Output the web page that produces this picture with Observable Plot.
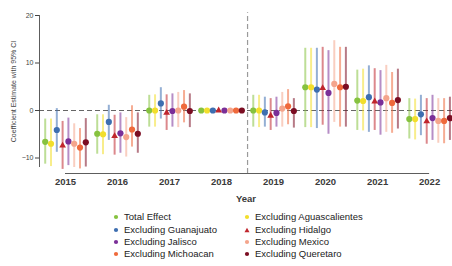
<!DOCTYPE html>
<html>
<head>
<meta charset="utf-8">
<script src="https://cdn.jsdelivr.net/npm/d3@7"></script>
<script src="https://cdn.jsdelivr.net/npm/@observablehq/plot@0.6"></script>
<style>
  body { margin: 0; background: #fff; font-family: "Liberation Sans", Arial, sans-serif; }
  #chart { position: relative; width: 452px; }
  .legend { position: relative; height: 56px; font-size: 9.5px; color: #222; }
  .item { position: absolute; display: flex; align-items: center; white-space: nowrap; }
  .item svg { margin-right: 5px; }
</style>
</head>
<body>
<div id="chart"></div>
<script>
const years = [2015, 2016, 2017, 2018, 2019, 2020, 2021, 2022];
const seriesNames = ["Total Effect", "Excluding Aguascalientes", "Excluding Guanajuato", "Excluding Hidalgo",
  "Excluding Jalisco", "Excluding Mexico", "Excluding Michoacan", "Excluding Queretaro"];
const seriesColors = ["#86c23f", "#f2de2c", "#3d6eb0", "#c0262d", "#7a2f98", "#f4a58c", "#ef6a3c", "#7b0d22"];

const estTotal = [-6.6, -4.9, 0.0, 0, 0.0, 4.9, 2.1, -1.8];
const loTotal  = [-11.3, -9.2, -3.5, 0, -3.5, -3.6, -4.2, -6.0];
const hiTotal  = [-1.8, -0.9, 3.2, 0, 3.2, 13.1, 8.5, 2.5];

const estAgs = [-7.0, -5.0, 0.0, 0, 0.0, 4.9, 2.0, -1.8];
const loAgs  = [-11.8, -9.3, -3.5, 0, -3.6, -3.6, -4.3, -6.2];
const hiAgs  = [-1.8, -0.9, 3.3, 0, 3.2, 13.1, 8.7, 2.4];

const estGto = [-4.1, -2.4, 1.5, 0, -0.4, 4.4, 2.8, -0.8];
const loGto  = [-8.8, -6.3, -1.8, 0, -3.5, -3.8, -4.6, -5.3];
const hiGto  = [0.4, 1.1, 4.8, 0, 2.8, 13.1, 9.4, 3.2];

const estHgo = [-7.4, -5.4, -0.5, 0, -1.1, 4.7, 1.9, -2.3];
const loHgo  = [-12.4, -9.4, -4.2, 0, -4.2, -3.1, -4.2, -7.1];
const hiHgo  = [-2.3, -1.0, 3.3, 0, 2.5, 13.3, 8.8, 2.5];

const estJal = [-6.5, -4.8, -0.1, 0, -0.5, 3.7, 1.7, -1.6];
const loJal  = [-11.6, -9.0, -3.5, 0, -3.5, -5.0, -5.2, -6.3];
const hiJal  = [-1.6, -0.5, 3.5, 0, 2.8, 12.6, 8.4, 3.2];

const estMex = [-7.0, -5.6, 0.0, 0, 0.4, 5.6, 2.6, -2.2];
const loMex  = [-12.0, -9.8, -3.6, 0, -3.5, -2.5, -4.6, -6.9];
const hiMex  = [-2.8, -1.5, 3.8, 0, 3.8, 14.7, 9.5, 2.5];

const estMich = [-7.8, -4.0, 0.8, 0, 0.9, 4.9, 1.6, -2.2];
const loMich  = [-12.3, -7.7, -2.6, 0, -3.0, -3.5, -4.8, -7.0];
const hiMich  = [-3.8, 1.0, 4.2, 0, 4.4, 13.3, 8.0, 2.5];

const estQro = [-6.7, -4.9, -0.1, 0, -0.1, 5.0, 2.2, -1.6];
const loQro  = [-11.9, -9.0, -3.6, 0, -3.7, -3.5, -3.9, -6.3];
const hiQro  = [-1.7, -0.5, 3.5, 0, 2.5, 13.3, 8.7, 2.8];

const yTicks = [-10, 0, 10, 20];

const allEst = [estTotal, estAgs, estGto, estHgo, estJal, estMex, estMich, estQro];
const allLo = [loTotal, loAgs, loGto, loHgo, loJal, loMex, loMich, loQro];
const allHi = [hiTotal, hiAgs, hiGto, hiHgo, hiJal, hiMex, hiMich, hiQro];

const rows = [];
seriesNames.forEach((name, si) => {
  years.forEach((yr, yi) => {
    rows.push({series: name, si, year: yr, est: allEst[si][yi], lo: allLo[si][yi], hi: allHi[si][yi]});
  });
});
const dodge = 0.1115;
const xPos = d => d.year + (d.si - 3.5) * dodge;

const colorScale = {domain: seriesNames, range: seriesColors};

const plot = Plot.plot({
  width: 452,
  height: 205,
  marginLeft: 39,
  marginRight: 0,
  marginTop: 15,
  marginBottom: 38,
  style: {fontFamily: "Liberation Sans, Arial, sans-serif", background: "#fff"},
  x: {domain: [2014.5, 2022.44], axis: null},
  y: {domain: [-12, 20], axis: null},
  color: colorScale,
  marks: [
    Plot.ruleY([0], {x1: 2014.5, x2: 2022.44, stroke: "#666", strokeWidth: 1.2, strokeDasharray: "5,3"}),
    Plot.ruleX([2018.5], {y1: -13.26, y2: 20.6, stroke: "#9a9a9a", strokeWidth: 1.2, strokeDasharray: "5,3"}),
    Plot.ruleX([2014.5], {y1: -12, y2: 20, stroke: "#333", strokeWidth: 0.8}),
    Plot.ruleY([-12], {x1: 2015, x2: 2022, dy: 6, stroke: "#333", strokeWidth: 0.8}),
    Plot.axisY({ticks: yTicks, tickSize: 4, tickPadding: 2, fontSize: 7, color: "#444",
      label: "Coefficient Estimate with 95% CI", labelAnchor: "center", labelArrow: false, labelOffset: 28}),
    Plot.axisX({ticks: years, tickFormat: d => String(d), tickSize: 0, tickPadding: 11, fontSize: 9.5,
      fontWeight: "bold", color: "#3a3a3a", label: "Year", labelAnchor: "center", labelArrow: false, labelOffset: 34}),
    Plot.ruleX(rows.filter(d => d.hi !== d.lo), {x: xPos, y1: "lo", y2: "hi", stroke: "series", strokeWidth: 2, strokeOpacity: 0.55}),
    Plot.dot(rows.filter(d => d.series !== "Excluding Hidalgo"), {x: xPos, y: "est", fill: "series", r: 3.1, symbol: "circle"}),
    Plot.dot(rows.filter(d => d.series === "Excluding Hidalgo"), {x: xPos, y: "est", fill: "series", r: 2.5, symbol: "triangle"})
  ]
});
document.getElementById("chart").appendChild(plot);

// legend (two columns, row-major)
const legend = document.createElement("div");
legend.className = "legend";
const colX = [113, 244];
const rowY = [6, 19, 31, 43];
seriesNames.forEach((name, i) => {
  const item = document.createElement("div");
  item.className = "item";
  item.style.left = colX[i % 2] + "px";
  item.style.top = rowY[Math.floor(i / 2)] + "px";
  const shape = name === "Excluding Hidalgo"
    ? `<polygon points="3,0.8 5.5,5.3 0.5,5.3" fill="${seriesColors[i]}"/>`
    : `<circle cx="3" cy="3" r="2.1" fill="${seriesColors[i]}"/>`;
  item.innerHTML = `<svg width="6" height="6">${shape}</svg><span>${name}</span>`;
  legend.appendChild(item);
});
document.getElementById("chart").appendChild(legend);
</script>
</body>
</html>
